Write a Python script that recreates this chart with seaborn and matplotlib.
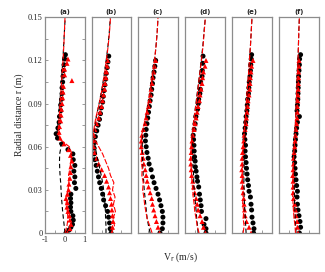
import matplotlib
matplotlib.use("Agg")
import matplotlib.pyplot as plt
import seaborn as sns
from matplotlib.ticker import MultipleLocator

sns.set_style("white")
plt.rcParams['font.family'] = ['Liberation Serif', 'DejaVu Serif']

panel_titles = ["(a)", "(b)", "(c)", "(d)", "(e)", "(f)"]
y_ticks = [0, 0.03, 0.06, 0.09, 0.12, 0.15]
y_tick_labels = ["0", "0.03", "0.06", "0.09", "0.12", "0.15"]
x_ticks = [-1, 0, 1]
x_tick_labels = ["-1", "0", "1"]

# common radial grid for the simulation (dashed) profiles
line_r = [0, 0.005, 0.01, 0.015, 0.02, 0.025, 0.03, 0.035, 0.04, 0.045, 0.05, 0.055,
          0.06, 0.065, 0.07, 0.08, 0.09, 0.10, 0.11, 0.12, 0.13, 0.14, 0.15]

# ---- panel (a)
a_circ_r = [0.000, 0.002, 0.004, 0.006, 0.009, 0.012, 0.015, 0.018, 0.021, 0.024, 0.027, 0.031,
            0.035, 0.039, 0.043, 0.047, 0.051, 0.055, 0.058, 0.062, 0.066, 0.069, 0.073, 0.077,
            0.081, 0.085, 0.089, 0.093, 0.097, 0.101, 0.105, 0.109, 0.113, 0.117, 0.121, 0.124]
a_circ_v = [0.05, 0.20, 0.30, 0.38, 0.42, 0.40, 0.30, 0.28, 0.30, 0.28, 0.30, 0.55,
            0.48, 0.50, 0.45, 0.50, 0.42, 0.40, 0.15, -0.15, -0.38, -0.45, -0.36, -0.30,
            -0.28, -0.22, -0.22, -0.18, -0.15, -0.15, -0.12, -0.10, -0.08, -0.05, -0.02, 0.02]
a_tri_r = [0.000, 0.003, 0.006, 0.009, 0.012, 0.015, 0.018, 0.021, 0.024, 0.027, 0.030, 0.034,
           0.038, 0.042, 0.046, 0.050, 0.054, 0.058, 0.062, 0.066, 0.070, 0.074, 0.078, 0.082,
           0.086, 0.090, 0.094, 0.098, 0.102, 0.106, 0.110, 0.114, 0.118, 0.121]
a_tri_v = [0.12, 0.25, 0.30, 0.25, 0.22, 0.15, 0.10, 0.12, 0.05, 0.12, 0.18, 0.20,
           0.25, 0.28, 0.30, 0.35, 0.28, 0.18, -0.05, -0.25, -0.30, -0.28, -0.22, -0.20,
           -0.18, -0.15, -0.12, -0.10, -0.08, 0.35, -0.02, -0.02, 0.10, 0.15]
a_black_line = [0.0, -0.04, -0.08, -0.12, -0.15, -0.18, -0.20, -0.22, -0.25, -0.27, -0.28, -0.27,
                -0.20, -0.35, -0.40, -0.33, -0.27, -0.21, -0.16, -0.11, -0.07, -0.03, 0.01]
a_red_line = [0.0, 0.10, 0.15, 0.12, 0.05, 0.10, 0.15, 0.20, 0.18, 0.25, 0.30, 0.35,
              0.22, -0.25, -0.35, -0.30, -0.25, -0.20, -0.15, -0.10, -0.06, -0.03, 0.0]

# ---- panel (b)
b_circ_r = [0.000, 0.003, 0.007, 0.011, 0.015, 0.019, 0.023, 0.027, 0.031, 0.035, 0.039, 0.043,
            0.047, 0.051, 0.055, 0.059, 0.063, 0.067, 0.071, 0.075, 0.079, 0.083, 0.087, 0.091,
            0.095, 0.099, 0.103, 0.107, 0.111, 0.115, 0.119, 0.123]
b_circ_v = [-0.02, -0.07, -0.10, -0.15, -0.20, -0.30, -0.40, -0.45, -0.52, -0.60, -0.66, -0.72,
            -0.78, -0.85, -0.88, -0.88, -0.85, -0.82, -0.75, -0.68, -0.61, -0.56, -0.52, -0.45,
            -0.42, -0.38, -0.34, -0.30, -0.27, -0.22, -0.18, -0.14]
b_tri_r = [0.000, 0.004, 0.008, 0.012, 0.016, 0.020, 0.024, 0.028, 0.032, 0.036, 0.040, 0.044,
           0.048, 0.052, 0.056, 0.060, 0.064, 0.068, 0.072, 0.076, 0.080, 0.084, 0.088, 0.092,
           0.096, 0.100, 0.104, 0.108, 0.112, 0.116, 0.120]
b_tri_v = [0.02, 0.05, 0.08, 0.05, 0.02, 0.00, -0.05, -0.10, -0.15, -0.25, -0.35, -0.50,
           -0.65, -0.75, -0.85, -0.90, -0.92, -0.90, -0.85, -0.75, -0.65, -0.58, -0.50, -0.45,
           -0.40, -0.35, -0.32, -0.28, -0.25, -0.22, -0.20]
b_black_line = [-0.28, -0.28, -0.30, -0.31, -0.33, -0.36, -0.40, -0.45, -0.52, -0.60, -0.68, -0.76,
                -0.83, -0.88, -0.88, -0.78, -0.63, -0.49, -0.37, -0.27, -0.18, -0.11, -0.06]
b_red_line = [0.0, 0.15, 0.08, 0.20, 0.10, 0.18, 0.05, 0.12, -0.05, -0.15, -0.30, -0.45,
              -0.65, -0.85, -0.92, -0.80, -0.62, -0.48, -0.36, -0.26, -0.17, -0.10, -0.05]

# ---- panel (c)
c_circ_r = [0.000, 0.003, 0.007, 0.011, 0.015, 0.019, 0.023, 0.027, 0.031, 0.035, 0.039, 0.044,
            0.048, 0.052, 0.056, 0.060, 0.064, 0.068, 0.072, 0.076, 0.080, 0.084, 0.088, 0.092,
            0.096, 0.100, 0.104, 0.108, 0.112, 0.116, 0.120]
c_circ_v = [0.10, 0.22, 0.25, 0.25, 0.22, 0.15, 0.08, 0.00, -0.10, -0.20, -0.28, -0.35,
            -0.45, -0.50, -0.56, -0.60, -0.64, -0.62, -0.60, -0.56, -0.52, -0.48, -0.44, -0.40,
            -0.35, -0.32, -0.28, -0.25, -0.20, -0.16, -0.12]
c_tri_r = [0.000, 0.004, 0.008, 0.012, 0.016, 0.020, 0.024, 0.028, 0.032, 0.036, 0.040, 0.044,
           0.048, 0.052, 0.056, 0.060, 0.064, 0.068, 0.072, 0.076, 0.080, 0.084, 0.088, 0.092,
           0.096, 0.100, 0.104, 0.108, 0.112, 0.116, 0.120]
c_tri_v = [0.08, 0.00, -0.08, -0.15, -0.22, -0.28, -0.32, -0.40, -0.48, -0.55, -0.60, -0.65,
           -0.72, -0.75, -0.80, -0.85, -0.85, -0.82, -0.75, -0.65, -0.60, -0.55, -0.48, -0.42,
           -0.38, -0.35, -0.30, -0.27, -0.22, -0.18, -0.12]
c_black_line = [-0.40, -0.48, -0.55, -0.59, -0.62, -0.66, -0.70, -0.72, -0.75, -0.77, -0.78, -0.79,
                -0.80, -0.80, -0.78, -0.62, -0.48, -0.36, -0.26, -0.17, -0.10, -0.04, 0.0]
c_red_line = [-0.30, -0.42, -0.55, -0.62, -0.68, -0.72, -0.78, -0.75, -0.82, -0.80, -0.85, -0.82,
              -0.86, -0.85, -0.80, -0.64, -0.50, -0.38, -0.27, -0.18, -0.10, -0.04, 0.0]

# ---- panel (d)
d_circ_r = [0.000, 0.003, 0.006, 0.010, 0.015, 0.019, 0.023, 0.027, 0.032, 0.036, 0.039, 0.043,
            0.046, 0.050, 0.053, 0.057, 0.061, 0.065, 0.068, 0.072, 0.076, 0.081, 0.086, 0.090,
            0.093, 0.097, 0.100, 0.105, 0.109, 0.113, 0.118, 0.123]
d_circ_v = [0.05, 0.05, -0.05, 0.05, -0.18, -0.20, -0.24, -0.28, -0.32, -0.38, -0.41, -0.45,
            -0.49, -0.50, -0.53, -0.55, -0.56, -0.58, -0.60, -0.55, -0.50, -0.46, -0.38, -0.34,
            -0.32, -0.26, -0.24, -0.22, -0.15, -0.14, -0.12, -0.10]
d_tri_r = [0.000, 0.004, 0.008, 0.012, 0.016, 0.020, 0.024, 0.028, 0.032, 0.036, 0.040, 0.044,
           0.048, 0.052, 0.056, 0.060, 0.064, 0.068, 0.072, 0.076, 0.080, 0.084, 0.088, 0.092,
           0.096, 0.100, 0.104, 0.108, 0.112, 0.116, 0.120]
d_tri_v = [0.02, -0.08, -0.15, -0.25, -0.35, -0.40, -0.45, -0.52, -0.58, -0.62, -0.68, -0.70,
           -0.72, -0.72, -0.70, -0.68, -0.66, -0.62, -0.55, -0.50, -0.45, -0.40, -0.35, -0.28,
           -0.25, -0.20, -0.15, -0.12, -0.08, 0.00, 0.05]
d_black_line = [-0.35, -0.38, -0.42, -0.45, -0.48, -0.52, -0.55, -0.57, -0.58, -0.60, -0.62, -0.64,
                -0.65, -0.66, -0.64, -0.56, -0.46, -0.37, -0.28, -0.19, -0.11, -0.05, 0.02]
d_red_line = [-0.30, -0.40, -0.45, -0.52, -0.55, -0.60, -0.62, -0.66, -0.68, -0.70, -0.72, -0.72,
              -0.70, -0.68, -0.64, -0.55, -0.45, -0.36, -0.27, -0.18, -0.10, -0.04, 0.02]

# ---- panel (e)
e_circ_r = [0.000, 0.003, 0.007, 0.011, 0.016, 0.020, 0.025, 0.029, 0.033, 0.037, 0.041, 0.045,
            0.049, 0.053, 0.057, 0.061, 0.065, 0.069, 0.073, 0.077, 0.081, 0.085, 0.089, 0.093,
            0.097, 0.101, 0.105, 0.109, 0.113, 0.117, 0.121, 0.124]
e_circ_v = [0.08, 0.10, 0.05, 0.00, -0.02, -0.05, -0.08, -0.15, -0.18, -0.22, -0.25, -0.28,
            -0.30, -0.33, -0.35, -0.33, -0.36, -0.38, -0.35, -0.32, -0.30, -0.26, -0.24, -0.22,
            -0.18, -0.16, -0.14, -0.10, -0.08, -0.06, -0.04, -0.02]
e_tri_r = [0.000, 0.004, 0.008, 0.012, 0.016, 0.020, 0.024, 0.028, 0.032, 0.036, 0.040, 0.044,
           0.048, 0.052, 0.056, 0.060, 0.064, 0.068, 0.072, 0.076, 0.080, 0.084, 0.088, 0.092,
           0.096, 0.100, 0.104, 0.108, 0.112, 0.116, 0.120]
e_tri_v = [-0.05, -0.15, -0.28, -0.35, -0.38, -0.40, -0.42, -0.45, -0.48, -0.50, -0.50, -0.52,
           -0.50, -0.50, -0.48, -0.45, -0.42, -0.40, -0.35, -0.30, -0.28, -0.25, -0.22, -0.20,
           -0.15, -0.12, -0.10, -0.08, -0.05, -0.02, 0.05]
e_black_line = [-0.30, -0.32, -0.34, -0.36, -0.38, -0.40, -0.40, -0.41, -0.41, -0.40, -0.40, -0.39,
                -0.38, -0.37, -0.36, -0.32, -0.28, -0.23, -0.18, -0.13, -0.08, -0.04, 0.0]
e_red_line = [-0.45, -0.40, -0.45, -0.42, -0.48, -0.45, -0.50, -0.48, -0.50, -0.48, -0.50, -0.47,
              -0.45, -0.42, -0.40, -0.34, -0.29, -0.24, -0.18, -0.13, -0.08, -0.04, 0.0]

# ---- panel (f)
f_circ_r = [0.000, 0.004, 0.008, 0.012, 0.016, 0.020, 0.025, 0.029, 0.033, 0.037, 0.041, 0.045,
            0.049, 0.053, 0.057, 0.061, 0.065, 0.069, 0.073, 0.077, 0.081, 0.085, 0.089, 0.093,
            0.097, 0.101, 0.105, 0.109, 0.113, 0.117, 0.121, 0.124]
f_circ_v = [0.02, 0.08, 0.05, 0.00, -0.05, -0.08, -0.10, -0.08, -0.12, -0.15, -0.18, -0.20,
            -0.22, -0.25, -0.22, -0.20, -0.18, -0.15, -0.12, -0.08, 0.02, -0.10, -0.08, -0.06,
            -0.05, -0.04, -0.03, -0.02, 0.00, 0.02, 0.03, 0.08]
f_tri_r = [0.000, 0.004, 0.008, 0.012, 0.016, 0.020, 0.024, 0.028, 0.032, 0.036, 0.040, 0.044,
           0.048, 0.052, 0.056, 0.060, 0.064, 0.068, 0.072, 0.076, 0.080, 0.084, 0.088, 0.092,
           0.096, 0.100, 0.104, 0.108, 0.112, 0.116, 0.120]
f_tri_v = [-0.05, -0.08, -0.10, -0.15, -0.18, -0.22, -0.28, -0.30, -0.30, -0.30, -0.32, -0.30,
           -0.28, -0.28, -0.25, -0.22, -0.20, -0.18, -0.15, -0.12, -0.10, -0.08, -0.08, -0.06,
           -0.05, -0.04, -0.03, -0.02, -0.02, 0.00, 0.00]
f_black_line = [-0.15, -0.17, -0.19, -0.21, -0.22, -0.23, -0.24, -0.24, -0.24, -0.24, -0.24, -0.23,
                -0.22, -0.21, -0.20, -0.17, -0.14, -0.11, -0.08, -0.05, -0.03, -0.01, 0.02]
f_red_line = [-0.18, -0.20, -0.25, -0.28, -0.30, -0.32, -0.33, -0.32, -0.30, -0.30, -0.28, -0.26,
              -0.24, -0.22, -0.20, -0.17, -0.14, -0.11, -0.08, -0.05, -0.03, -0.01, 0.02]

panels = [
    (a_circ_r, a_circ_v, a_tri_r, a_tri_v, a_black_line, a_red_line),
    (b_circ_r, b_circ_v, b_tri_r, b_tri_v, b_black_line, b_red_line),
    (c_circ_r, c_circ_v, c_tri_r, c_tri_v, c_black_line, c_red_line),
    (d_circ_r, d_circ_v, d_tri_r, d_tri_v, d_black_line, d_red_line),
    (e_circ_r, e_circ_v, e_tri_r, e_tri_v, e_black_line, e_red_line),
    (f_circ_r, f_circ_v, f_tri_r, f_tri_v, f_black_line, f_red_line),
]

W, H = 325, 272
fig = plt.figure(figsize=(W / 100, H / 100), dpi=100)
lefts = [45.3, 91.8, 138.3, 185.3, 232.3, 279.3]
ax_w = 39.4
ax_top, ax_bot = 17.3, 233.0
spine_col = "#8c8c8c"

for i, (cr, cv, tr, tv, bl, rl) in enumerate(panels):
    ax = fig.add_axes([lefts[i] / W, (H - ax_bot) / H, ax_w / W, (ax_bot - ax_top) / H])
    sns.lineplot(x=bl, y=line_r, sort=False, estimator=None, color="black", lw=0.8, ax=ax)
    ax.get_lines()[-1].set_dashes([4, 2.5])
    sns.lineplot(x=rl, y=line_r, sort=False, estimator=None, color="red", lw=0.8, ax=ax)
    ax.get_lines()[-1].set_dashes([5, 1.5])
    sns.scatterplot(x=cv, y=cr, marker="o", color="black", s=13, edgecolor="none", ax=ax)
    sns.scatterplot(x=tv, y=tr, marker="^", color="red", s=13, edgecolor="none", ax=ax)
    ax.set_xlim(-1, 1)
    ax.set_ylim(0, 0.15)
    for sp in ax.spines.values():
        sp.set_color(spine_col)
        sp.set_linewidth(0.9)
    ax.set_xlabel("")
    ax.set_ylabel("")
    ax.set_title(panel_titles[i], fontsize=5, family="DejaVu Sans", fontweight="bold", pad=2.5)
    ax.xaxis.set_minor_locator(MultipleLocator(0.5))
    if i == 0:
        ax.set_xticks(x_ticks)
        ax.set_xticklabels(x_tick_labels)
        ax.set_yticks(y_ticks)
        ax.set_yticklabels(y_tick_labels)
        ax.yaxis.set_minor_locator(MultipleLocator(0.015))
        ax.tick_params(axis="y", which="both", direction="in", left=True, right=True,
                       length=2.5, width=0.6, color=spine_col, labelsize=6, pad=2)
        ax.tick_params(axis="x", which="both", direction="in", bottom=True,
                       length=2.5, width=0.6, color=spine_col, labelsize=6, pad=2)
    else:
        ax.set_xticks(x_ticks)
        ax.set_xticklabels([])
        ax.set_yticks([])
        ax.tick_params(axis="x", which="both", direction="in", bottom=True,
                       length=2.5, width=0.6, color=spine_col, labelbottom=False)

fig.text(19 / W, 1 - 115 / H, "Radial distance r (m)", rotation=90, fontsize=7,
         ha="center", va="center")
fig.text(180 / W, 1 - 257 / H, "V$_{\\rm r}$ (m/s)", fontsize=7, ha="center", va="center")

fig.savefig("out.png", dpi=100)
